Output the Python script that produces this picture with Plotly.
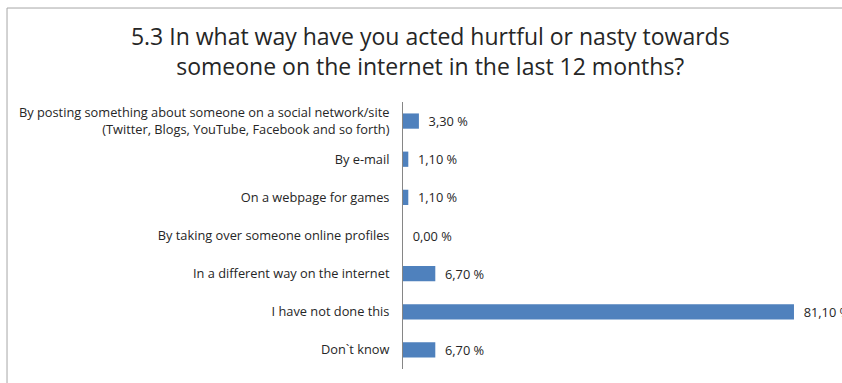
import plotly.graph_objects as go

# Survey answers, top to bottom
categories = [
    "By posting something about someone on a social network/site<br>(Twitter, Blogs, YouTube, Facebook and so forth)",
    "By e-mail",
    "On a webpage for games",
    "By taking over someone online profiles",
    "In a different way on the internet",
    "I have not done this",
    "Don`t know",
]
shares = [3.3, 1.1, 1.1, 0.0, 6.7, 81.1, 6.7]
title_text = ("5.3 In what way have you acted hurtful or nasty towards<br>"
              "someone on the internet in the last 12 months?")

# value labels with a decimal comma, nudged away from the bar end
labels = ["\u00a0\u00a0" + f"{v:.2f}".replace(".", ",") + " %" for v in shares]

FONT = "Open Sans"
TEXT = "#262626"

fig = go.Figure(
    go.Bar(
        x=shares,
        y=categories,
        orientation="h",
        width=0.4,
        marker=dict(color="#4f81bd", line=dict(width=0)),
        text=labels,
        textposition="outside",
        constraintext="none",
        textfont=dict(family=FONT, size=12.8, color=TEXT),
        cliponaxis=False,
    )
)

fig.update_layout(
    width=842,
    height=383,
    margin=dict(l=403, r=0, t=102, b=14),
    paper_bgcolor="white",
    plot_bgcolor="white",
    showlegend=False,
    font=dict(family=FONT, color=TEXT),
    title=dict(
        text=title_text,
        x=0.511,
        xanchor="center",
        xref="container",
        y=1 - 45 / 383,
        yref="container",
        yanchor="middle",
        font=dict(family=FONT, size=23, color=TEXT),
    ),
    xaxis=dict(
        range=[0, 91.06],
        visible=False,
        showgrid=False,
        zeroline=False,
    ),
    yaxis=dict(
        autorange="reversed",
        showline=True,
        linecolor="#868686",
        linewidth=1,
        ticks="",
        showgrid=False,
        ticklabelstandoff=10,
        tickfont=dict(family=FONT, size=12.8, color=TEXT),
    ),
    bargap=0.6,
    shapes=[
        # chart frame
        dict(
            type="rect",
            xref="paper",
            yref="paper",
            x0=-0.902,
            x1=1.05,
            y0=-0.2,
            y1=1.352,
            line=dict(color="#a6a6a6", width=1),
            fillcolor="rgba(0,0,0,0)",
            layer="below",
        )
    ],
)

fig.write_html("out.html")
